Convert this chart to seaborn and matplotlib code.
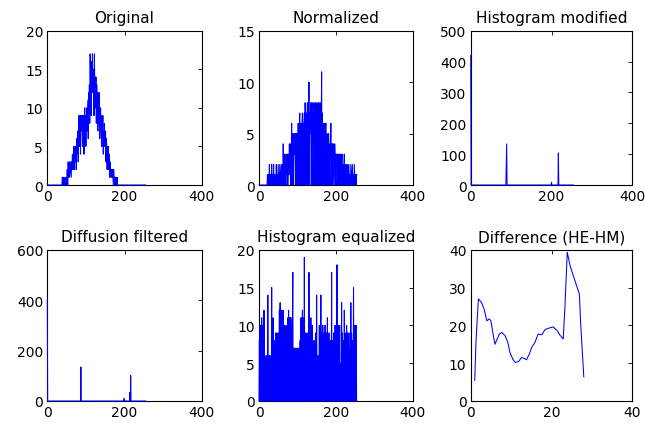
import numpy as np
import matplotlib
matplotlib.use("Agg")
import matplotlib.pyplot as plt
import seaborn as sns

# histogram counts (bin index 0..255)
original_start = 38
original_counts = [
    0, 1, 0, 0, 1, 0, 0, 0, 1, 0,
    0, 1, 0, 2, 1, 0, 3, 1, 2, 3,
    1, 2, 3, 2, 1, 3, 2, 4, 3, 2,
    3, 5, 2, 4, 3, 5, 4, 2, 6, 4,
    5, 7, 3, 6, 9, 5, 8, 9, 4, 9,
    7, 9, 8, 5, 9, 7, 9, 4, 8, 10,
    7, 9, 5, 8, 10, 7, 9, 11, 6, 12,
    10, 13, 8, 17, 12, 14, 9, 16, 13, 17,
    12, 15, 14, 9, 17, 13, 14, 10, 14, 8,
    13, 11, 12, 7, 11, 8, 12, 10, 6, 7,
    10, 8, 9, 5, 8, 7, 9, 4, 7, 6,
    8, 5, 6, 7, 3, 6, 5, 2, 5, 4,
    5, 2, 3, 4, 1, 3, 2, 1, 2, 2,
    1, 2, 1, 0, 2, 1, 1, 0, 1, 0,
    1, 0, 0, 1, 0, 0, 0, 0, 0, 0,
]

normalized_start = 20
normalized_counts = [
    0, 0, 1, 0, 1, 0, 0, 2, 0, 1,
    0, 1, 0, 2, 0, 1, 1, 0, 2, 0,
    1, 0, 1, 1, 0, 2, 0, 1, 0, 1,
    2, 0, 1, 0, 2, 1, 0, 1, 2, 0,
    1, 2, 0, 4, 1, 2, 0, 3, 1, 2,
    0, 3, 2, 1, 3, 0, 2, 3, 1, 4,
    2, 3, 0, 4, 3, 6, 0, 5, 3, 4,
    0, 5, 4, 3, 5, 0, 4, 5, 3, 0,
    5, 4, 6, 0, 5, 4, 7, 0, 5, 6,
    4, 0, 6, 7, 5, 0, 6, 5, 7, 0,
    8, 6, 5, 0, 7, 6, 8, 0, 7, 6,
    10, 0, 7, 6, 5, 8, 0, 7, 8, 6,
    0, 7, 6, 8, 0, 7, 5, 8, 0, 6,
    7, 8, 0, 6, 7, 8, 0, 7, 6, 8,
    0, 7, 6, 11, 0, 7, 5, 6, 0, 5,
    6, 4, 0, 5, 6, 4, 0, 5, 4, 3,
    0, 5, 4, 3, 0, 4, 3, 6, 0, 4,
    3, 4, 0, 3, 4, 2, 0, 4, 3, 2,
    0, 3, 2, 3, 0, 2, 3, 2, 0, 3,
    2, 0, 3, 2, 0, 2, 3, 0, 2, 2,
    0, 2, 3, 0, 2, 1, 0, 2, 2, 0,
    1, 2, 0, 1, 2, 0, 1, 1, 0, 2,
    1, 0, 1, 2, 0, 1, 1, 0, 2, 1,
    0, 1, 1, 0, 1, 1,
]

modified_bins = [0, 88, 89, 200, 217]
modified_counts = [420, 60, 133, 9, 104]

diffusion_bins = [0, 87, 199, 214, 216]
diffusion_counts = [401, 135, 10, 34, 101]

equalized_counts = [
    0, 8, 0, 10, 0, 8, 0, 11, 0, 10,
    0, 9, 0, 12, 0, 6, 0, 5, 0, 6,
    0, 5, 0, 14, 0, 5, 0, 6, 0, 5,
    0, 6, 0, 15, 0, 7, 0, 11, 0, 8,
    0, 7, 0, 9, 0, 4, 0, 9, 0, 5,
    0, 9, 0, 12, 0, 13, 0, 8, 0, 12,
    0, 9, 0, 12, 0, 6, 0, 10, 0, 6,
    0, 10, 0, 8, 0, 11, 0, 12, 0, 11,
    0, 11, 0, 11, 0, 10, 0, 11, 17, 0,
    0, 7, 0, 6, 0, 7, 0, 6, 0, 7,
    0, 6, 0, 7, 0, 6, 0, 8, 0, 11,
    0, 11, 0, 12, 0, 11, 0, 0, 19, 0,
    0, 9, 0, 7, 0, 9, 0, 7, 0, 0,
    17, 0, 0, 10, 0, 11, 0, 8, 0, 10,
    0, 6, 0, 8, 0, 6, 0, 9, 0, 0,
    14, 0, 0, 6, 0, 5, 0, 10, 0, 5,
    0, 14, 0, 0, 9, 0, 10, 0, 8, 0,
    9, 0, 10, 0, 8, 0, 9, 0, 11, 0,
    8, 0, 9, 0, 7, 0, 8, 0, 0, 17,
    0, 0, 8, 0, 9, 0, 8, 0, 10, 0,
    9, 0, 0, 18, 0, 0, 10, 0, 5, 0,
    10, 0, 5, 0, 0, 13, 0, 9, 0, 8,
    0, 0, 12, 0, 9, 0, 8, 0, 10, 0,
    9, 0, 7, 0, 9, 0, 7, 0, 0, 13,
    0, 9, 0, 8, 0, 0, 15, 0, 0, 10,
    0, 10, 0, 10, 0, 0,
]

diff_x = [1.0, 1.3, 1.9, 2.7, 3.3, 4.0, 4.6, 5.0, 5.6, 6.0, 6.4, 7.1, 7.7,
          8.5, 9.2, 9.7, 10.4, 11.0, 11.8, 12.6, 13.2, 13.8, 14.5, 15.1,
          15.9, 16.7, 17.6, 18.4, 19.2, 20.4, 21.4, 22.1, 22.9, 23.3, 23.9,
          24.6, 25.4, 26.2, 26.9, 27.2, 28.0]
diff_y = [5.4, 15.5, 27.0, 26.0, 24.3, 21.2, 21.7, 21.2, 17.3, 15.0, 16.0,
          17.7, 18.1, 17.3, 15.5, 12.9, 11.1, 10.2, 10.4, 11.5, 11.3, 10.9,
          12.4, 14.2, 15.5, 17.7, 17.5, 18.9, 19.2, 19.6, 18.6, 17.4, 16.4,
          24.3, 39.3, 35.8, 33.1, 30.5, 28.3, 20.8, 6.3]

titles = ["Original", "Normalized", "Histogram modified",
          "Diffusion filtered", "Histogram equalized", "Difference (HE-HM)"]


def full_hist(start, counts):
    h = np.zeros(256)
    h[start:start + len(counts)] = counts
    return h


def sparse_hist(bins, counts):
    h = np.zeros(256)
    h[bins] = counts
    return h


bins = np.arange(256)
series = [
    (bins, full_hist(original_start, original_counts), (0, 400), [0, 200, 400], (0, 20), [0, 5, 10, 15, 20]),
    (bins, full_hist(normalized_start, normalized_counts), (0, 400), [0, 200, 400], (0, 15), [0, 5, 10, 15]),
    (bins, sparse_hist(modified_bins, modified_counts), (0, 400), [0, 200, 400], (0, 500), [0, 100, 200, 300, 400, 500]),
    (bins, sparse_hist(diffusion_bins, diffusion_counts), (0, 400), [0, 200, 400], (0, 600), [0, 200, 400, 600]),
    (bins, np.array(equalized_counts, dtype=float), (0, 400), [0, 200, 400], (0, 20), [0, 5, 10, 15, 20]),
    (np.array(diff_x), np.array(diff_y), (0, 40), [0, 20, 40], (0, 40), [0, 10, 20, 30, 40]),
]

sns.set_style("white")
plt.rcParams['font.family'] = ['DejaVu Sans']
plt.rcParams['text.color'] = 'black'
plt.rcParams['axes.titlecolor'] = 'black'

fig = plt.figure(figsize=(6.49, 4.27), dpi=100)
W, H = 649, 427
cols = [(47.3, 154.4), (259.0, 153.7), (470.7, 161.6)]
rows = [(31.7, 186.0), (250.7, 402.0)]

for i, (x, y, xl, xt, yl, yt) in enumerate(series):
    r, c = divmod(i, 3)
    left, width = cols[c]
    top, bottom = rows[r]
    ax = fig.add_axes([left / W, 1 - bottom / H, width / W, (bottom - top) / H])
    for s in ax.spines.values():
        s.set_visible(True)
        s.set_color("black")
        s.set_linewidth(0.8)
        s.set_zorder(2)
    sns.lineplot(x=x, y=y, ax=ax, color="#0000ff", linewidth=0.75,
                 estimator=None, sort=False, zorder=3, clip_on=False)
    ax.set_xlim(*xl)
    ax.set_ylim(*yl)
    ax.set_xticks(xt)
    ax.set_yticks(yt)
    ax.set_xlabel("")
    ax.set_ylabel("")
    ax.set_title(titles[i], fontsize=11, pad=6, color="black")
    ax.tick_params(direction="in", top=True, right=True, length=3, width=0.6,
                   labelsize=10, pad=3, colors="black")

fig.savefig("out.png", dpi=100, facecolor="white")
